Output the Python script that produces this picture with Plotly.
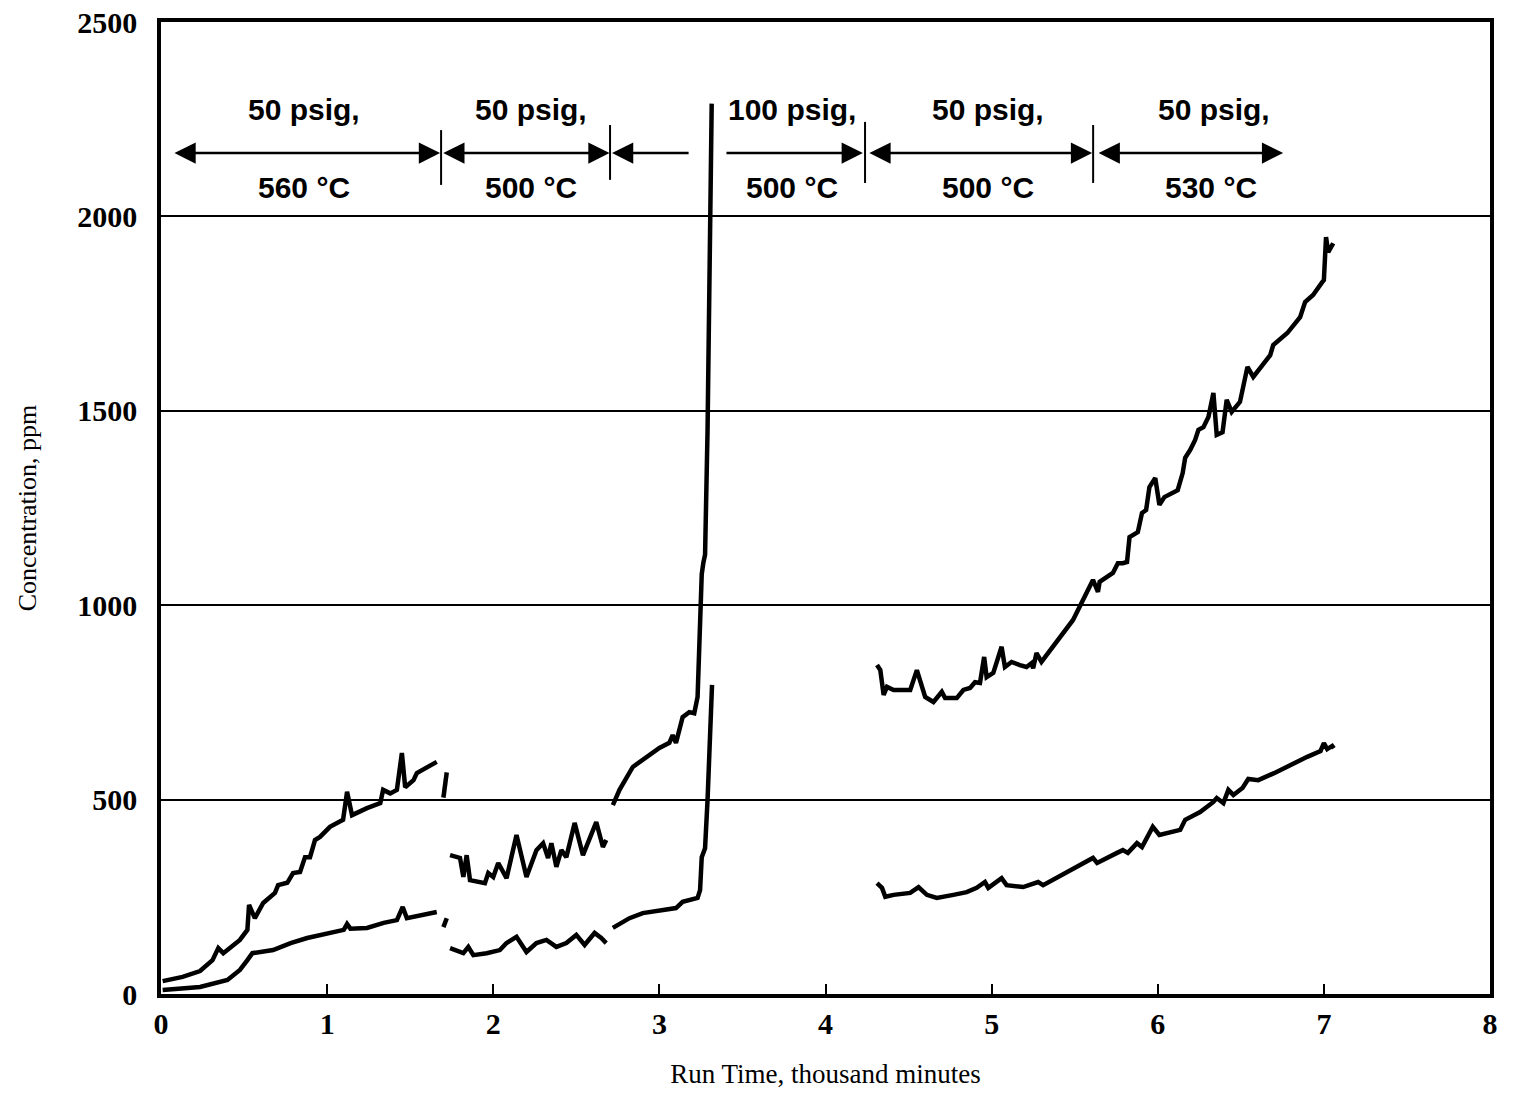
import plotly.graph_objects as go

# ---- data (thousand minutes, ppm) ----
up1_x = [0.01, 0.13, 0.235, 0.31, 0.345, 0.375, 0.475, 0.52, 0.53, 0.565, 0.615, 0.686, 0.705, 0.76, 0.795, 0.837, 0.867, 0.897, 0.927, 0.957, 1.017, 1.096, 1.12, 1.15, 1.24, 1.32, 1.337, 1.38, 1.42, 1.45, 1.47, 1.52, 1.54, 1.66]
up1_y = [33, 44, 59, 87, 118, 105, 139, 165, 229, 195, 234, 260, 280, 286, 311, 314, 352, 352, 396, 404, 430, 448, 520, 460, 478, 491, 525, 516, 525, 620, 532, 550, 568, 597]
up1b_x = [1.70, 1.72]
up1b_y = [505, 570]
up2_x = [1.74, 1.80, 1.82, 1.84, 1.86, 1.95, 1.97, 2.00, 2.03, 2.08, 2.14, 2.20, 2.26, 2.30, 2.33, 2.35, 2.38, 2.41, 2.44, 2.49, 2.54, 2.62, 2.66, 2.68]
up2_y = [357, 350, 301, 357, 293, 285, 311, 301, 337, 298, 409, 301, 370, 388, 350, 388, 327, 370, 352, 440, 357, 442, 378, 396]
up3_x = [2.72, 2.76, 2.84, 2.93, 3.00, 3.06, 3.08, 3.10, 3.14, 3.18, 3.21, 3.23, 3.24, 3.255, 3.265, 3.275, 3.29, 3.305, 3.315]
up3_y = [486, 525, 584, 610, 633, 646, 666, 646, 712, 725, 722, 764, 900, 1080, 1110, 1130, 1450, 2000, 2290]
up4_x = [4.31, 4.33, 4.35, 4.37, 4.41, 4.51, 4.55, 4.60, 4.65, 4.70, 4.72, 4.79, 4.83, 4.87, 4.90, 4.93, 4.955, 4.97, 5.01, 5.06, 5.08, 5.12, 5.17, 5.21, 5.24, 5.25, 5.27, 5.30, 5.49, 5.61, 5.64, 5.65, 5.73, 5.76, 5.79, 5.815, 5.83, 5.88, 5.905, 5.93, 5.95, 5.985, 6.01, 6.04, 6.12, 6.15, 6.165, 6.195, 6.225, 6.245, 6.275, 6.305, 6.335, 6.355, 6.39, 6.415, 6.445, 6.495, 6.54, 6.575, 6.677, 6.695, 6.78, 6.857, 6.887, 6.935, 6.99, 7.00, 7.013, 7.026, 7.05, 7.056]
up4_y = [846, 833, 769, 790, 782, 782, 833, 764, 751, 777, 761, 761, 782, 787, 802, 800, 867, 815, 826, 893, 841, 854, 846, 841, 851, 838, 877, 854, 962, 1065, 1034, 1060, 1083, 1108, 1108, 1111, 1175, 1188, 1237, 1245, 1304, 1327, 1258, 1278, 1296, 1340, 1379, 1399, 1425, 1451, 1458, 1484, 1546, 1438, 1445, 1528, 1497, 1523, 1613, 1587, 1643, 1669, 1700, 1741, 1780, 1798, 1831, 1836, 1947, 1908, 1926, 1931]

lo1_x = [0.01, 0.235, 0.40, 0.475, 0.52, 0.55, 0.675, 0.78, 0.88, 1.0, 1.10, 1.12, 1.14, 1.24, 1.34, 1.42, 1.455, 1.48, 1.66]
lo1_y = [10, 18, 36, 62, 87, 105, 113, 131, 144, 157, 165, 180, 168, 170, 183, 190, 224, 195, 211]
lo1b_x = [1.70, 1.72]
lo1b_y = [172, 195]
lo2_x = [1.74, 1.82, 1.85, 1.88, 1.96, 2.04, 2.08, 2.14, 2.20, 2.26, 2.32, 2.38, 2.44, 2.50, 2.55, 2.61, 2.65, 2.68]
lo2_y = [118, 105, 121, 100, 105, 113, 131, 147, 108, 131, 139, 121, 131, 152, 126, 157, 144, 131]
lo3_x = [2.72, 2.82, 2.90, 3.02, 3.10, 3.14, 3.23, 3.245, 3.255, 3.275, 3.29, 3.317]
lo3_y = [170, 195, 208, 216, 221, 237, 247, 267, 352, 375, 499, 795]
lo4_x = [4.31, 4.34, 4.36, 4.41, 4.51, 4.56, 4.61, 4.67, 4.77, 4.85, 4.91, 4.96, 4.98, 5.06, 5.09, 5.19, 5.28, 5.31, 5.61, 5.635, 5.755, 5.79, 5.82, 5.875, 5.905, 5.97, 6.01, 6.135, 6.165, 6.24, 6.255, 6.335, 6.355, 6.395, 6.425, 6.455, 6.51, 6.545, 6.605, 6.70, 6.80, 6.90, 6.98, 7.00, 7.02, 7.05, 7.06]
lo4_y = [285, 273, 250, 255, 260, 275, 255, 247, 255, 262, 273, 288, 273, 298, 280, 275, 288, 280, 350, 337, 363, 370, 363, 388, 378, 430, 409, 422, 448, 466, 468, 494, 504, 491, 525, 512, 530, 553, 550, 568, 590, 610, 625, 645, 630, 638, 632]

segments = [(up1_x, up1_y), (up1b_x, up1b_y), (up2_x, up2_y), (up3_x, up3_y), (up4_x, up4_y),
            (lo1_x, lo1_y), (lo1b_x, lo1b_y), (lo2_x, lo2_y), (lo3_x, lo3_y), (lo4_x, lo4_y)]

# ---- condition labels ----
label_top = ["50 psig,", "50 psig,", "100 psig,", "50 psig,", "50 psig,"]
label_top_x = [0.86, 2.23, 3.80, 4.98, 6.34]
label_bot = ["560 °C", "500 °C", "500 °C", "500 °C", "530 °C"]
label_bot_x = [0.86, 2.23, 3.80, 4.98, 6.32]
label_top_y = 2275
label_bot_y = 2075

# arrows: (tail_x, head_x, side)
arrows = [(0.072, 1.68, "end+start"), (1.69, 2.70, "end+start"), (3.185, 2.715, "end"),
          (3.395, 4.225, "end"), (4.255, 5.605, "end+start"), (5.635, 6.755, "end+start")]
arrow_y = 2163
# vertical separators: (x, y0, y1)
seps = [(1.686, 2081, 2222), (2.703, 2094, 2235), (4.238, 2086, 2243), (5.611, 2086, 2235)]

fig = go.Figure()
for sx, sy in segments:
    fig.add_trace(go.Scatter(x=sx, y=sy, mode="lines",
                             line=dict(color="black", width=4.5), showlegend=False,
                             hoverinfo="skip"))

ann = []
for t, x in zip(label_top, label_top_x):
    ann.append(dict(x=x, y=label_top_y, text="<b>" + t + "</b>", showarrow=False,
                    font=dict(family="Liberation Sans", size=30, color="black"),
                    xref="x", yref="y"))
for t, x in zip(label_bot, label_bot_x):
    ann.append(dict(x=x, y=label_bot_y, text="<b>" + t + "</b>", showarrow=False,
                    font=dict(family="Liberation Sans", size=30, color="black"),
                    xref="x", yref="y"))
for tx, hx, side in arrows:
    ann.append(dict(x=hx, y=arrow_y, ax=tx, ay=arrow_y, xref="x", yref="y",
                    axref="x", ayref="y", text="", showarrow=True, arrowhead=2,
                    arrowsize=1.7, arrowwidth=2.5, arrowcolor="black", arrowside=side,
                    standoff=0, startstandoff=0))

shapes = []
for x, y0, y1 in seps:
    shapes.append(dict(type="line", xref="x", yref="y", x0=x, x1=x, y0=y0, y1=y1,
                       line=dict(color="black", width=2)))

fig.update_layout(
    width=1515, height=1107,
    margin=dict(l=161, r=25, t=22, b=113),
    paper_bgcolor="white", plot_bgcolor="white",
    annotations=ann, shapes=shapes,
    font=dict(family="Liberation Serif", color="black"),
)
fig.update_xaxes(range=[0, 8], dtick=1, showgrid=False, zeroline=False, automargin=False,
                 showline=True, linecolor="black", linewidth=3.5, mirror=True,
                 ticks="inside", ticklen=10, tickwidth=2, tickcolor="black",
                 tickfont=dict(family="Liberation Serif", size=30, color="black"),
                 tickprefix="<b>", ticksuffix="</b>",
                 title=dict(text="Run Time, thousand minutes", standoff=26,
                            font=dict(family="Liberation Serif", size=27, color="black")))
fig.update_yaxes(range=[0, 2500], dtick=500, showgrid=True, gridcolor="black", gridwidth=2,
                 zeroline=False, showline=True, linecolor="black", linewidth=3.5, mirror=True,
                 automargin=False, ticks="", ticklabelstandoff=14,
                 tickfont=dict(family="Liberation Serif", size=30, color="black"),
                 tickprefix="<b>", ticksuffix="</b>",
                 title=dict(text="Concentration, ppm", standoff=34,
                            font=dict(family="Liberation Serif", size=26, color="black")))

fig.write_html("out.html")
